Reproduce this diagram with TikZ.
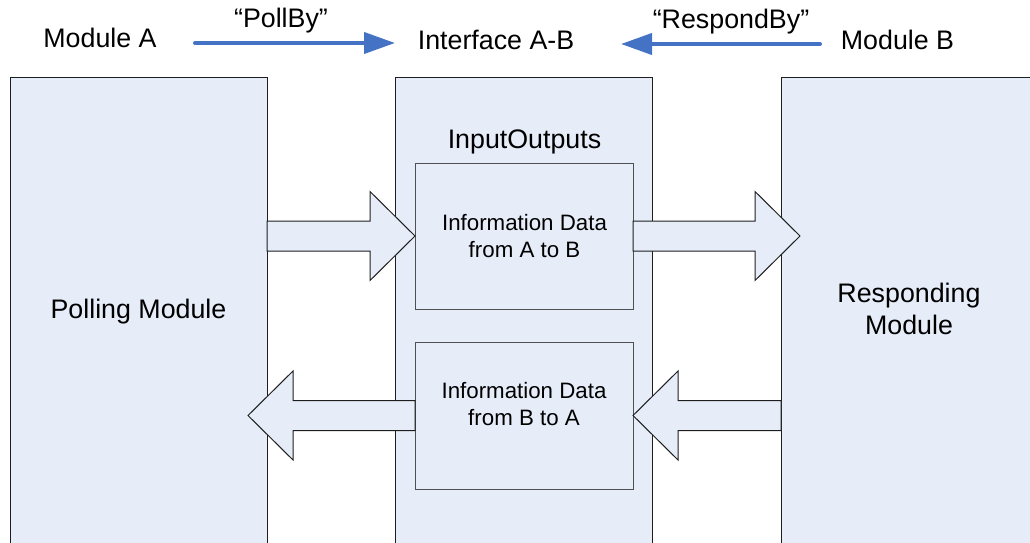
\documentclass[tikz,border=0pt]{standalone}
\usepackage{fontspec}
\setmainfont{Liberation Sans}
\usetikzlibrary{arrows.meta,calc}
\definecolor{panel}{RGB}{230,237,248}
\definecolor{flowblue}{RGB}{68,114,196}
\definecolor{edgedark}{RGB}{30,30,30}
\definecolor{edgegrey}{RGB}{80,80,80}
\tikzset{
  column/.style={draw=edgedark,fill=panel,line width=1pt,outer sep=0pt,inner sep=0pt,minimum width=257pt,minimum height=480pt},
  databox/.style={draw=edgegrey,fill=panel,line width=1pt,outer sep=0pt,inner sep=0pt,minimum width=218pt},
  blockarrow/.style={draw=edgedark,fill=panel,line width=1pt,line join=miter},
  bigtext/.style={font=\fontsize{26.8}{32}\selectfont,inner sep=0pt,outer sep=0pt,anchor=base,align=center},
  smalltext/.style={font=\fontsize{22.3}{27}\selectfont,inner sep=0pt,outer sep=0pt,anchor=base,align=center},
  flow/.style={draw=flowblue,line width=4pt,line cap=round,-{Triangle[length=31pt,width=21pt]}}
}
\newcommand\blkarr[3]{%
  \draw[blockarrow] let \p1=(#1), \p2=(#2) in
    ({\x1},{\y2+15pt}) -- ({\x2-(#3)},{\y2+15pt}) -- ({\x2-(#3)},{\y2+44.5pt}) -- ({\x2},{\y2})
    -- ({\x2-(#3)},{\y2-44.5pt}) -- ({\x2-(#3)},{\y2-15pt}) -- ({\x1},{\y2-15pt}) -- cycle;}
\begin{document}
\begin{tikzpicture}[x=1pt,y=-1pt]
\useasboundingbox (0,0) rectangle (1030,543);
\clip (0,0) rectangle (1030,543);
% columns
\node[column] (colA) at (138.5,317) {};
\node[column] (colI) at (524,317) {};
\node[column] (colB) at (909.5,317) {};
% inner boxes
\node[databox,minimum height=146pt] (boxAB) at (524,236) {};
\node[databox,minimum height=147pt] (boxBA) at (524,415.5) {};
% block arrows
\coordinate (tA1) at (colA.east |- boxAB.west);
\coordinate (hA2) at ($(colB.west |- boxAB.east)+(19,0)$);
\coordinate (tB1) at (colB.west |- boxBA.east);
\coordinate (hB2) at ($(colA.east |- boxBA.west)+(-19,0)$);
\blkarr{tA1}{boxAB.west}{45pt}
\blkarr{boxAB.east}{hA2}{45pt}
\blkarr{tB1}{boxBA.east}{-45pt}
\blkarr{boxBA.west}{hB2}{-45pt}
% texts
\node[bigtext] (modA) at (100,48) {Module A};
\node[bigtext] (iface) at (496,49) {Interface A-B};
\node[bigtext] (modB) at (897.5,49) {Module B};
\node[bigtext] (pollby) at (281,28) {“PollBy”};
\node[bigtext] (respby) at (731,29) {“RespondBy”};
\node[bigtext] (polling) at (138.5,318) {Polling Module};
\node[bigtext] (responding) at (909,334) {Responding\\Module};
\node[bigtext] (io) at (524.5,148) {InputOutputs};
\node[smalltext] (txtAB) at (524.5,257) {Information Data\\from A to B};
\node[smalltext] (txtBA) at (524,425) {Information Data\\from B to A};
% flow arrows
\coordinate (pbS) at (195,43);
\coordinate (pbE) at (395,43);
\coordinate (rbS) at (820,44);
\coordinate (rbE) at (621,44);
\draw[flow] (pbS) -- (pbE);
\draw[flow] (rbS) -- (rbE);
\end{tikzpicture}
\end{document}
